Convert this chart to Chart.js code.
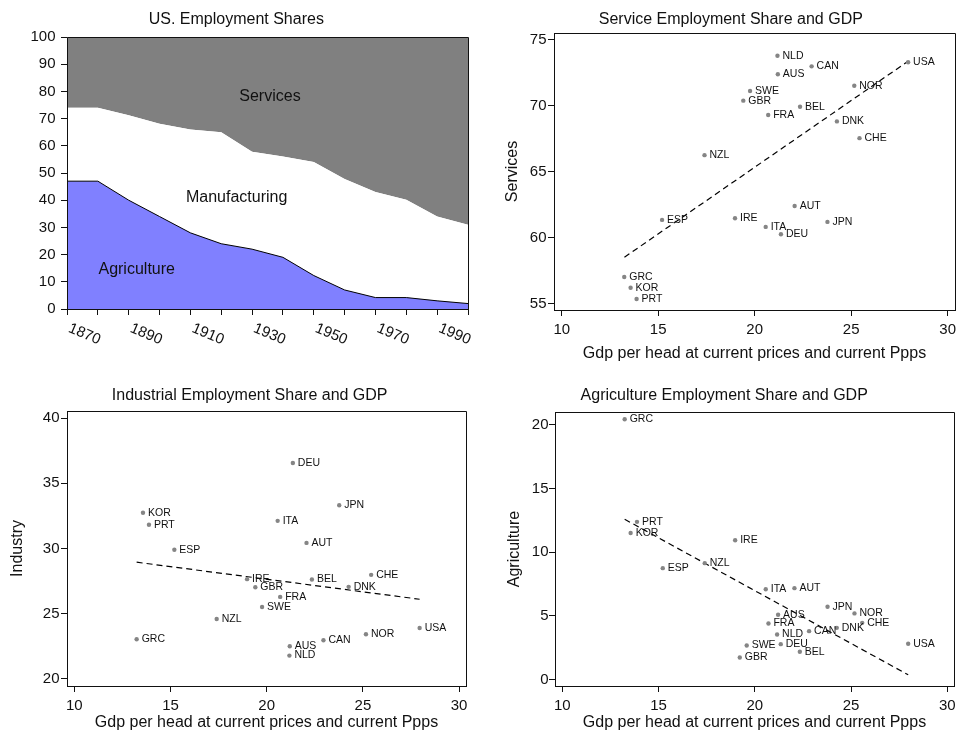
<!DOCTYPE html>
<html>
<head>
<meta charset="utf-8">
<title>Employment shares and GDP</title>
<script src="https://cdn.jsdelivr.net/npm/chart.js@4.4.1/dist/chart.umd.min.js"></script>
<style>
  html, body { margin: 0; padding: 0; background: #fff; }
  #wrap { position: relative; width: 959px; height: 732px; }
  canvas { position: absolute; }
</style>
</head>
<body>
<div id="wrap">
  <canvas id="usShares" width="480" height="366" style="left:0;top:0"></canvas>
  <canvas id="servicesChart" width="479" height="366" style="left:480px;top:0"></canvas>
  <canvas id="industryChart" width="480" height="366" style="left:0;top:366px"></canvas>
  <canvas id="agricultureChart" width="479" height="366" style="left:480px;top:366px"></canvas>
</div>
<script>
// US employment shares (percent), one value per decade
var years = [1870, 1880, 1890, 1900, 1910, 1920, 1930, 1940, 1950, 1960, 1970, 1980, 1990, 2000];
var agriShare = [47, 47, 40, 34, 28, 24, 22, 19, 12.3, 7, 4.2, 4.2, 3, 2];
var manufShare = [27, 27, 31.2, 34.1, 38, 41, 35.8, 37.1, 41.7, 40.8, 38.8, 36, 31, 29];
var serviceShare = [26, 26, 28.8, 31.9, 34, 35, 42.2, 43.9, 46, 52.2, 57, 59.8, 66, 69];
var yearLabels = [1870, 1890, 1910, 1930, 1950, 1970, 1990];
var shareTicks = [0, 10, 20, 30, 40, 50, 60, 70, 80, 90, 100];

// cross-country shares against GDP per head
var countries = ['AUS', 'AUT', 'BEL', 'CAN', 'CHE', 'DEU', 'DNK', 'ESP', 'FRA', 'GBR', 'GRC',
                 'IRE', 'ITA', 'JPN', 'KOR', 'NLD', 'NOR', 'NZL', 'PRT', 'SWE', 'USA'];
var gdp = [21.2, 22.07, 22.35, 22.95, 25.43, 21.36, 24.26, 15.2, 20.7, 19.41, 13.24,
           18.98, 20.57, 23.77, 13.57, 21.18, 25.16, 17.4, 13.88, 19.76, 27.95];
var gdpAgri = [21.21, 22.06, 22.34, 22.82, 25.58, 21.35, 24.26, 15.22, 20.71, 19.22, 13.24,
               18.98, 20.57, 23.78, 13.55, 21.16, 25.18, 17.4, 13.88, 19.58, 27.97];
var services = [72.37, 62.39, 69.91, 72.97, 67.53, 60.24, 68.8, 61.33, 69.28, 70.37, 57.0,
                61.46, 60.8, 61.18, 56.19, 73.78, 71.5, 66.24, 55.33, 71.1, 73.28];
var industry = [22.51, 30.43, 27.62, 22.97, 27.98, 36.55, 27.06, 29.9, 26.29, 27.03, 23.04,
                27.65, 32.12, 33.32, 32.74, 21.79, 23.43, 24.6, 31.82, 25.52, 23.91];
var agriculture = [5.09, 7.18, 2.19, 3.81, 4.46, 2.79, 4.07, 8.75, 4.41, 1.75, 20.42,
                   10.94, 7.1, 5.72, 11.51, 3.55, 5.2, 9.14, 12.38, 2.69, 2.82];

// fitted lines, end points
var servicesFit = [[13.25, 58.5], [27.94, 73.35]];
var industryFit = [[13.24, 28.95], [27.95, 26.11]];
var agricultureFit = [[13.24, 12.58], [27.97, 0.39]];

var gdpTicks = [10, 15, 20, 25, 30];
var servicesTicks = [55, 60, 65, 70, 75];
var industryTicks = [20, 25, 30, 35, 40];
var agricultureTicks = [0, 5, 10, 15, 20];

var ink = '#111';
var fontFamily = '"Liberation Sans", Arial, Helvetica, sans-serif';
Chart.defaults.font.family = fontFamily;
Chart.defaults.color = ink;

// text drawn on top of each panel, keyed by canvas id
var panelText = {
  usShares: {
    title: 'US. Employment Shares', tx: 236.3, ty: 19.3,
    notes: [
      { text: 'Services', x: 1935.8, y: 78 },
      { text: 'Manufacturing', x: 1925, y: 41 },
      { text: 'Agriculture', x: 1892.6, y: 14.4 }
    ],
    slanted: yearLabels
  },
  servicesChart: { title: 'Service Employment Share and GDP', tx: 250.8, ty: 20 },
  industryChart: { title: 'Industrial Employment Share and GDP', tx: 249.7, ty: 30 },
  agricultureChart: { title: 'Agriculture Employment Share and GDP', tx: 244.2, ty: 30 }
};

function crisp(v) { return Math.round(v - 0.5) + 0.5; }

var decor = {
  id: 'decor',
  afterDatasetsDraw: function (chart) {
    var ctx = chart.ctx;
    chart.data.datasets.forEach(function (ds, i) {
      if (!ds.names) return;
      var meta = chart.getDatasetMeta(i);
      ctx.save();
      ctx.font = '10.5px ' + fontFamily;
      ctx.fillStyle = ink;
      ctx.textAlign = 'left';
      ctx.textBaseline = 'middle';
      meta.data.forEach(function (pt, j) {
        ctx.fillText(ds.names[j], pt.x + 5, pt.y);
      });
      ctx.restore();
    });
  },
  afterDraw: function (chart) {
    var ctx = chart.ctx, a = chart.chartArea;
    var t = panelText[chart.canvas.id];
    ctx.save();
    // frame round the plot
    ctx.strokeStyle = ink;
    ctx.lineWidth = 1;
    ctx.beginPath();
    ctx.rect(crisp(a.left), crisp(a.top), crisp(a.right) - crisp(a.left), crisp(a.bottom) - crisp(a.top));
    ctx.stroke();

    ctx.fillStyle = ink;
    ctx.font = '16px ' + fontFamily;
    ctx.textAlign = 'center';
    ctx.textBaseline = 'middle';
    ctx.fillText(t.title, t.tx, t.ty);

    var xs = chart.scales.x, ys = chart.scales.y;
    (t.notes || []).forEach(function (n) {
      ctx.fillText(n.text, xs.getPixelForValue(n.x), ys.getPixelForValue(n.y));
    });

    if (t.slanted) {
      ctx.font = '15px ' + fontFamily;
      ctx.textAlign = 'left';
      ctx.textBaseline = 'alphabetic';
      t.slanted.forEach(function (yr) {
        ctx.save();
        ctx.translate(xs.getPixelForValue(yr) + 0.5, a.bottom + 22.5);
        ctx.rotate(23 * Math.PI / 180);
        ctx.fillText(String(yr), 0, 0);
        ctx.restore();
      });
    }
    ctx.restore();
  }
};

function axis(c) {
  return {
    type: 'linear',
    position: c.position,
    min: c.min,
    max: c.max,
    afterBuildTicks: function (s) {
      s.ticks = c.ticks.map(function (v) { return { value: v }; });
    },
    afterFit: function (s) {
      if (c.position === 'left') {
        s.width = c.size; s.paddingTop = 0; s.paddingBottom = 0;
      } else {
        s.height = c.size; s.paddingLeft = 0; s.paddingRight = 0;
      }
    },
    grid: { drawOnChartArea: false, drawTicks: true, tickLength: 6, tickWidth: 1, tickColor: ink, color: ink, lineWidth: 1 },
    border: { display: true, color: ink, width: 1 },
    ticks: {
      font: { size: 15 },
      color: ink,
      padding: c.tickPad,
      maxRotation: 0,
      autoSkip: false,
      callback: function (v) { return c.hideLabels ? '' : String(v); }
    },
    title: c.title ? {
      display: true,
      text: c.title,
      font: { size: 16 },
      color: ink,
      padding: c.position === 'left' ? { top: c.titlePad, bottom: 0 } : { top: 0, bottom: c.titlePad }
    } : { display: false }
  };
}

function baseOptions(p, scales) {
  return {
    responsive: false,
    animation: false,
    events: [],
    devicePixelRatio: 1,
    layout: { padding: { left: 0, top: p.T, right: p.W - p.R, bottom: 0 } },
    plugins: { legend: { display: false }, title: { display: false }, tooltip: { enabled: false } },
    scales: scales
  };
}

function series(xsArr, ysArr) {
  return xsArr.map(function (x, i) { return { x: x, y: ysArr[i] }; });
}

// US employment shares, stacked areas
var p1 = { W: 480, H: 366, L: 67, R: 468, T: 37, B: 309 };
var yAxis1 = axis({ position: 'left', min: 0, max: 100, ticks: shareTicks, size: p1.L, tickPad: 5.5 });
yAxis1.stacked = true;
new Chart(document.getElementById('usShares'), {
  type: 'line',
  data: {
    datasets: [
      { label: 'Agriculture', data: series(years, agriShare), backgroundColor: '#8080ff',
        borderColor: '#000', borderWidth: 1, fill: 'origin', pointRadius: 0, tension: 0 },
      { label: 'Manufacturing', data: series(years, manufShare), backgroundColor: '#ffffff',
        borderColor: 'rgba(0,0,0,0)', borderWidth: 1, fill: '-1', pointRadius: 0, tension: 0 },
      { label: 'Services', data: series(years, serviceShare), backgroundColor: '#808080',
        borderColor: 'rgba(0,0,0,0)', borderWidth: 1, fill: '-1', pointRadius: 0, tension: 0 }
    ]
  },
  options: baseOptions(p1, {
    x: axis({ position: 'bottom', min: 1870, max: 2000, ticks: years, size: p1.H - p1.B, tickPad: 4, hideLabels: true }),
    y: yAxis1
  }),
  plugins: [decor]
});

function scatterPanel(id, p, xVals, yVals, fit, yTicks, yTitle) {
  new Chart(document.getElementById(id), {
    type: 'scatter',
    data: {
      datasets: [
        { label: yTitle, data: series(xVals, yVals), names: countries,
          pointRadius: 2.2, pointBackgroundColor: '#858585', pointBorderWidth: 0 },
        { type: 'line', label: 'fit', data: fit.map(function (d) { return { x: d[0], y: d[1] }; }),
          borderColor: '#000', borderWidth: 1.2, borderDash: [6, 4], pointRadius: 0, fill: false, showLine: true }
      ]
    },
    options: baseOptions(p, {
      x: axis({ position: 'bottom', min: p.xMin, max: p.xMax, ticks: gdpTicks, size: p.H - p.B, tickPad: 5,
                title: 'Gdp per head at current prices and current Ppps', titlePad: p.xTitlePad }),
      y: axis({ position: 'left', min: p.yMin, max: p.yMax, ticks: yTicks, size: p.L, tickPad: p.yTickPad,
                title: yTitle, titlePad: p.yTitlePad })
    }),
    plugins: [decor]
  });
}

scatterPanel('servicesChart',
  { W: 479, H: 366, L: 74, R: 477, T: 33, B: 310, xMin: 9.6, xMax: 30.38, yMin: 54.5, yMax: 75.5,
    yTickPad: 1.5, yTitlePad: 23.4, xTitlePad: 3.1 },
  gdp, services, servicesFit, servicesTicks, 'Services');

scatterPanel('industryChart',
  { W: 480, H: 366, L: 67, R: 466, T: 45, B: 320, xMin: 9.62, xMax: 30.36, yMin: 19.46, yMax: 40.54,
    yTickPad: 1.5, yTitlePad: 8.2, xTitlePad: 0 },
  gdp, industry, industryFit, industryTicks, 'Industry');

scatterPanel('agricultureChart',
  { W: 479, H: 366, L: 75, R: 474, T: 46, B: 320, xMin: 9.62, xMax: 30.35, yMin: -0.49, yMax: 20.99,
    yTickPad: 0.5, yTitlePad: 24.6, xTitlePad: 0 },
  gdpAgri, agriculture, agricultureFit, agricultureTicks, 'Agriculture');
</script>
</body>
</html>
